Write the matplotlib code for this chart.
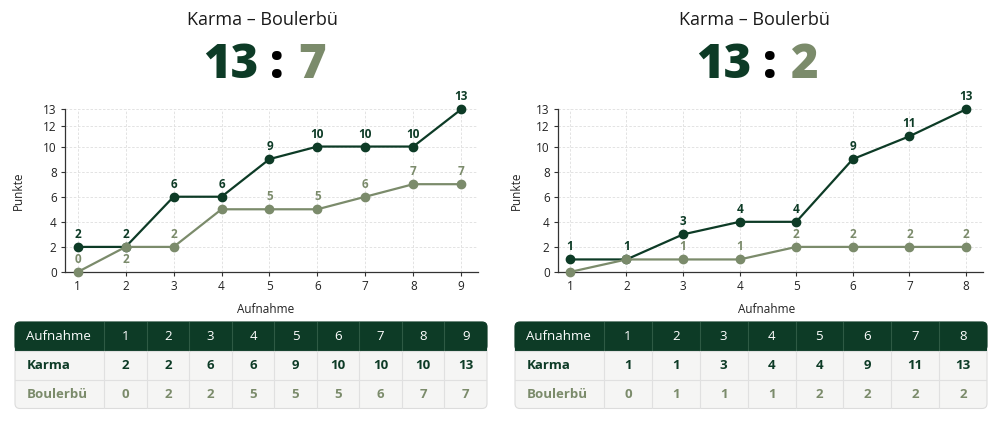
import numpy as np
import matplotlib.pyplot as plt
from matplotlib.patches import FancyBboxPatch, Rectangle

plt.rcParams['font.family'] = ['Open Sans', 'DejaVu Sans']

# Data
home = "Karma"
away = "Boulerbü"

rounds_1 = [1, 2, 3, 4, 5, 6, 7, 8, 9]
karma_1 = [2, 2, 6, 6, 9, 10, 10, 10, 13]
bouler_1 = [0, 2, 2, 5, 5, 5, 6, 7, 7]

rounds_2 = [1, 2, 3, 4, 5, 6, 7, 8]
karma_2 = [1, 1, 3, 4, 4, 9, 11, 13]
bouler_2 = [0, 1, 1, 1, 2, 2, 2, 2]

y_ticks = [0, 2, 4, 6, 8, 10, 12, 13]

DARK = "#0d3b26"
LIGHT = "#7b8b6b"
W, H = 1000, 423

# the y axis of the original is squeezed above 10
scale_vals = [0, 10, 12, 13]
scale_pos = [0, 10, 11.64, 12.97]


def fwd(v):
    return np.interp(v, scale_vals, scale_pos)


def inv(p):
    return np.interp(p, scale_pos, scale_vals)


def fx(px):
    return px / W


def fy(py):
    return 1 - py / H


fig = plt.figure(figsize=(10, 4.23), dpi=100)


def draw_panel(left, right, xlim, rounds, karma, bouler, center, colon_x,
               tleft, tright, xlab_x, ylab_x):
    # title + score
    fig.text(fx(center), fy(25), f"{home} – {away}", ha="center", va="baseline",
             fontsize=13, color="#1a1a1a")
    fig.text(fx(colon_x - 19), fy(78), str(karma[-1]), ha="right", va="baseline",
             fontsize=34, fontweight="black", color=DARK)
    fig.text(fx(colon_x), fy(78), ":", ha="center", va="baseline",
             fontsize=34, fontweight="black", color="black")
    fig.text(fx(colon_x + 21), fy(78), str(bouler[-1]), ha="left", va="baseline",
             fontsize=34, fontweight="black", color=LIGHT)

    ax = fig.add_axes([fx(left), fy(272), fx(right - left), fy(109.3) - fy(272)])
    ax.set_yscale("function", functions=(fwd, inv))
    ax.plot(rounds, karma, color=DARK, lw=1.6, marker="o", ms=6, zorder=3,
            clip_on=False)
    ax.plot(rounds, bouler, color=LIGHT, lw=1.6, marker="o", ms=6, zorder=4,
            clip_on=False)

    for r, k, b in zip(rounds, karma, bouler):
        ax.annotate(str(k), (r, k), xytext=(0, 9), textcoords="offset points",
                    ha="center", va="center", fontsize=8.5, fontweight="bold",
                    color=DARK, annotation_clip=False)
        diff = k - b
        if diff == 1:
            continue
        if diff == 0:
            if b < 2:
                continue
            off = -9
        else:
            off = 9
        ax.annotate(str(b), (r, b), xytext=(0, off), textcoords="offset points",
                    ha="center", va="center", fontsize=8.5, fontweight="bold",
                    color=LIGHT, annotation_clip=False)

    ax.set_xlim(*xlim)
    ax.set_ylim(0, 13)
    ax.set_xticks(rounds)
    ax.set_yticks(y_ticks)
    ax.grid(True, color="#dedede", lw=0.6, ls=(0, (3, 2)))
    ax.set_axisbelow(True)
    for s in ("top", "right"):
        ax.spines[s].set_visible(False)
    for s in ("left", "bottom"):
        ax.spines[s].set_color("#333333")
        ax.spines[s].set_linewidth(0.9)
    ax.tick_params(length=3, width=0.8, color="#333333", labelsize=8.5,
                   labelcolor="#222222", pad=3)
    ax.set_xlabel("Aufnahme", fontsize=8.5, color="#222222")
    ax.set_ylabel("Punkte", fontsize=8.5, color="#222222")
    ax.xaxis.set_label_coords(xlab_x, -0.19)
    ax.yaxis.set_label_coords(ylab_x, 0.5)

    # table
    tw = tright - tleft
    th = 86.5
    tax = fig.add_axes([fx(tleft), fy(322 + th), fx(tw), fy(322) - fy(322 + th)])
    tax.set_xlim(0, tw)
    tax.set_ylim(th, 0)
    tax.axis("off")
    first_w = 89
    col_w = (tw - first_w) / len(rounds)
    row_h = th / 3

    tax.add_patch(FancyBboxPatch((0, 0), tw, th, boxstyle="round,pad=0,rounding_size=5",
                                 fc="#f5f5f4", ec="#dcdcdc", lw=0.8, clip_on=False))
    tax.add_patch(FancyBboxPatch((0, 0), tw, row_h, boxstyle="round,pad=0,rounding_size=5",
                                 fc=DARK, ec=DARK, lw=0.8, clip_on=False))
    tax.add_patch(Rectangle((0, row_h / 2), tw, row_h / 2, fc=DARK, ec="none",
                            clip_on=False))
    for i in range(1, 3):
        tax.plot([0, tw], [i * row_h, i * row_h], color="#e0e0e0", lw=0.8)
    for j in range(len(rounds)):
        xx = first_w + j * col_w
        tax.plot([xx, xx], [0, row_h], color="#2e5a44", lw=0.8)
        tax.plot([xx, xx], [row_h, th], color="#e0e0e0", lw=0.8)

    rows = [("Aufnahme", rounds, "white", "normal"),
            (home, karma, DARK, "bold"),
            (away, bouler, LIGHT, "bold")]
    for i, (name, vals, col, wt) in enumerate(rows):
        yc = (i + 0.5) * row_h
        tax.text(11.5, yc, name, ha="left", va="center", fontsize=9.5,
                 color=col, fontweight=wt)
        for j, v in enumerate(vals):
            tax.text(first_w + (j + 0.5) * col_w, yc, str(v), ha="center",
                     va="center", fontsize=9.5, color=col,
                     fontweight="medium" if i == 0 else "bold")


draw_panel(65, 478, (0.735, 9.35), rounds_1, karma_1, bouler_1,
           262, 277, 15, 487, 0.485, -0.097)
draw_panel(558, 983, (0.79, 8.3), rounds_2, karma_2, bouler_2,
           754, 770, 515, 987, 0.49, -0.082)

fig.savefig("out.png", dpi=100, facecolor="white")
